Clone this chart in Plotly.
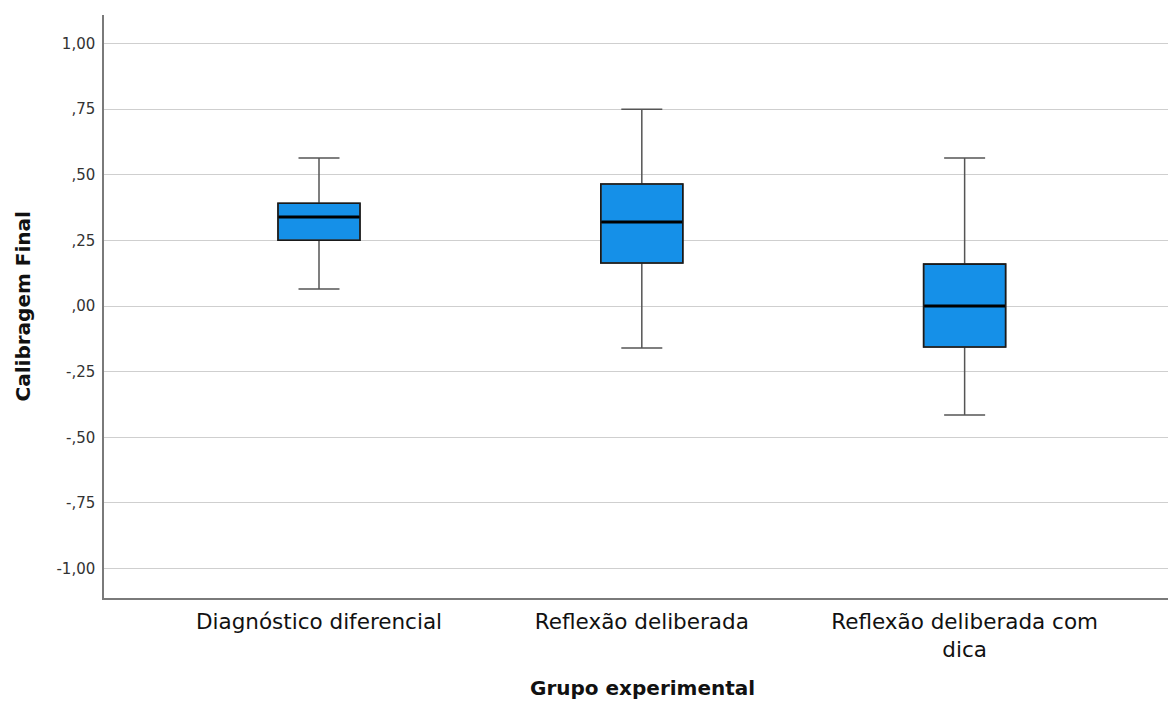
import plotly.graph_objects as go

categories = ["Diagnóstico diferencial", "Reflexão deliberada", "Reflexão deliberada com<br>dica"]
lower_whisker = [0.065, -0.16, -0.415]
q1_vals = [0.251, 0.164, -0.156]
medians = [0.339, 0.320, 0.0]
q3_vals = [0.392, 0.465, 0.160]
upper_whisker = [0.564, 0.750, 0.564]

y_tickvals = [1.0, 0.75, 0.5, 0.25, 0.0, -0.25, -0.5, -0.75, -1.0]
y_ticktext = ["1,00", ",75", ",50", ",25", ",00", "-,25", "-,50", "-,75", "-1,00"]

common = dict(x=categories, width=0.254, whiskerwidth=0.5, boxpoints=False,
              showlegend=False, hoverinfo="skip")

fig = go.Figure()
# filled box with grey whiskers
fig.add_trace(go.Box(
    q1=q1_vals, median=medians, q3=q3_vals,
    lowerfence=lower_whisker, upperfence=upper_whisker,
    fillcolor="#1590E8",
    line=dict(color="#555555", width=1.5),
    **common,
))
# dark box outline
fig.add_trace(go.Box(
    q1=q1_vals, median=medians, q3=q3_vals,
    lowerfence=q1_vals, upperfence=q3_vals,
    fillcolor="rgba(0,0,0,0)",
    line=dict(color="#1a1a1a", width=1.6),
    **common,
))
# thicker median line (zero-height box at the median)
fig.add_trace(go.Box(
    q1=medians, median=medians, q3=medians,
    lowerfence=medians, upperfence=medians,
    fillcolor="rgba(0,0,0,0)",
    line=dict(color="#000000", width=3),
    **{**common, "width": 0.25},
))

font_family = "DejaVu Sans, Verdana, sans-serif"

fig.update_layout(
    width=1168, height=702,
    margin=dict(l=104, r=0, t=15, b=104),
    plot_bgcolor="white", paper_bgcolor="white",
    font=dict(family=font_family, color="#222"),
    boxmode="overlay",
    xaxis=dict(
        type="category",
        range=[-0.666, 2.63],
        showgrid=False,
        showline=True, linecolor="#7a7a7a", linewidth=1.5,
        ticks="", ticklabelstandoff=3,
        tickfont=dict(size=21.5, color="#111"),
        zeroline=False,
    ),
    yaxis=dict(
        range=[-1.112, 1.109],
        tickvals=y_tickvals, ticktext=y_ticktext,
        showgrid=True, gridcolor="#cfcfcf", gridwidth=1.2,
        showline=True, linecolor="#7a7a7a", linewidth=1.5,
        ticks="", ticklabelstandoff=4,
        tickfont=dict(size=15, color="#333"),
        zeroline=False,
    ),
    annotations=[
        dict(text="<b>Calibragem Final</b>", x=(22 - 104) / 1064, y=0.5, xref="paper", yref="paper",
             showarrow=False, textangle=-90, font=dict(size=20, color="#111"),
             xanchor="center", yanchor="middle"),
        dict(text="<b>Grupo experimental</b>", x=(642 - 104) / 1064, y=-(688 - 598) / 583,
             xref="paper", yref="paper",
             showarrow=False, font=dict(size=20, color="#111"),
             xanchor="center", yanchor="middle"),
    ],
)

fig.write_html("out.html", config={"displayModeBar": False},
               post_script="document.body.style.margin='0';")
